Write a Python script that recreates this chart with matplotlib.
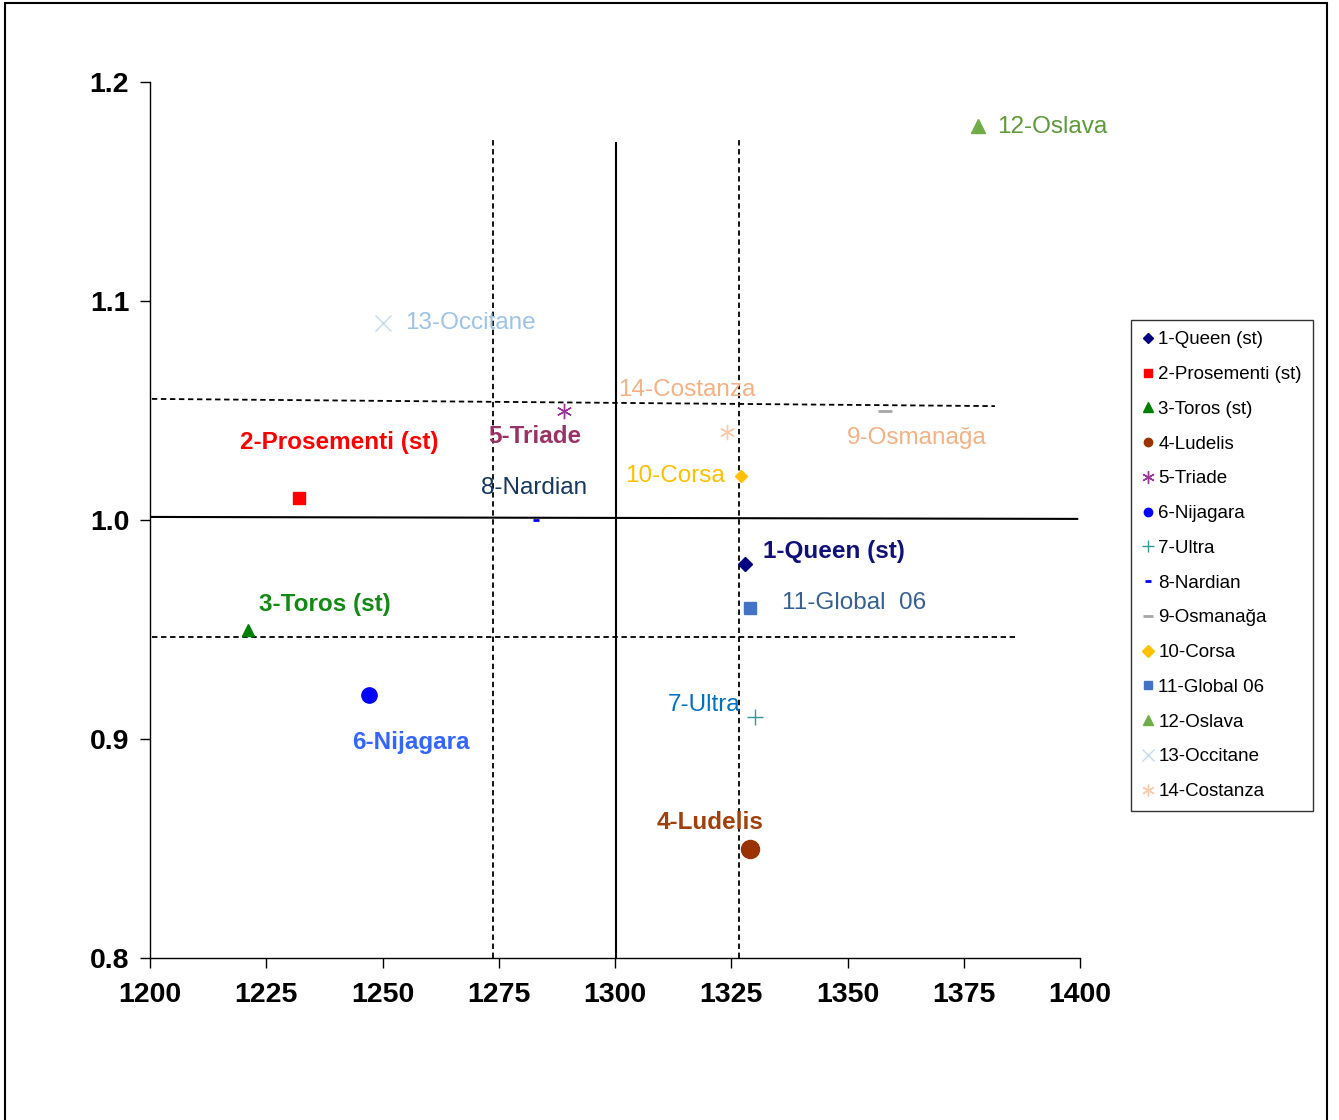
import matplotlib
matplotlib.use("Agg")
import matplotlib.pyplot as plt
from matplotlib.patches import Rectangle

plt.rcParams['font.family'] = ['Liberation Sans', 'DejaVu Sans']

# cultivars: x value, y value
names = ['1-Queen (st)', '2-Prosementi (st)', '3-Toros (st)', '4-Ludelis', '5-Triade',
         '6-Nijagara', '7-Ultra', '8-Nardian', '9-Osmanağa', '10-Corsa',
         '11-Global 06', '12-Oslava', '13-Occitane', '14-Costanza']
x_vals = [1328, 1232, 1221, 1329, 1289, 1247, 1330, 1283, 1358, 1327, 1329, 1378, 1250, 1324]
y_vals = [0.98, 1.01, 0.95, 0.85, 1.05, 0.92, 0.91, 1.00, 1.05, 1.02, 0.96, 1.18, 1.09, 1.04]

# point labels on the plot
point_labels = ['1-Queen (st)', '2-Prosementi (st)', '3-Toros (st)', '4-Ludelis', '5-Triade',
                '6-Nijagara', '7-Ultra', '8-Nardian', '9-Osmanağa', '10-Corsa',
                '11-Global  06', '12-Oslava', '13-Occitane', '14-Costanza']

# reference lines (mean and +/- limits)
x_mean = 1300.2
x_low, x_high = 1273.8, 1326.7
y_mean = 1.0
y_low, y_high = 0.9466, 1.054

# style per series: marker, size, colour, label colour, bold, legend marker size
styles = [
    ('D', 7, '#000080', '#10107a', True, 5),
    ('s', 8, '#FF0000', '#FF0000', True, 6),
    ('^', 9, '#008000', '#138a13', True, 7),
    ('o', 13, '#993300', '#a0400d', True, 6),
    ((6, 2, 0), 11, '#993399', '#993366', True, 9),
    ('o', 11, '#0000FF', '#3366FF', True, 6),
    ('+', 11, '#339999', '#0070C0', False, 9),
    ('_', 5, '#0000FF', '#17375E', False, 5),
    ('_', 10, '#A6A6A6', '#F4B183', False, 7),
    ('D', 6, '#FFC000', '#FFC000', False, 6),
    ('s', 8, '#4472C4', '#366092', False, 6),
    ('^', 10, '#70AD47', '#5E9A3A', False, 7),
    ('x', 11, '#C5D9F1', '#9DC3E6', False, 8),
    ((6, 2, 0), 11, '#F8CBAD', '#F4B183', False, 9),
]
# label anchor (left, centre) in data units
label_pos = [(1331.8, 0.9858), (1219.4, 1.0356), (1223.4, 0.9616), (1309.0, 0.8621),
             (1272.7, 1.0379), (1243.4, 0.8986), (1311.4, 0.9155), (1271.2, 1.0146),
             (1349.9, 1.0374), (1302.2, 1.0201), (1335.9, 0.9621), (1382.2, 1.1795),
             (1254.8, 1.0900), (1300.6, 1.0594)]

fig = plt.figure(figsize=(13.39, 11.2), dpi=100)
ax = fig.add_axes([150/1339, 1-958/1120, 930/1339, 876/1120])

# reference lines
dash = (0, (3, 2))
ax.plot([x_low, x_low], [0.8, 1.174], color='black', lw=1.3, ls=dash)
ax.plot([x_high, x_high], [0.8, 1.174], color='black', lw=1.3, ls=dash)
ax.plot([x_mean, x_mean], [0.8, 1.172], color='black', lw=1.5)
ax.plot([1200.4, 1381.7], [y_high + 0.0013, y_high - 0.002], color='black', lw=1.3, ls=dash)
ax.plot([1200, 1399.4], [y_mean + 0.0014, y_mean + 0.0005], color='black', lw=1.5)
ax.plot([1200.4, 1386], [y_low, y_low], color='black', lw=1.3, ls=dash)

for i in range(len(names)):
    mk, ms, col, lcol, bold, lms = styles[i]
    mew = 2 if mk == '_' else 1
    ax.plot([x_vals[i]], [y_vals[i]], linestyle='none', marker=mk, markersize=ms,
            color=col, markeredgecolor=col, markeredgewidth=mew, label=names[i])
    lx, ly = label_pos[i]
    ax.text(lx, ly, point_labels[i], color=lcol, fontsize=17.5,
            fontweight='bold' if bold else 'normal', ha='left', va='center')

ax.set_xlim(1200, 1400)
ax.set_ylim(0.8, 1.2)
ax.set_xticks([1200, 1225, 1250, 1275, 1300, 1325, 1350, 1375, 1400])
ax.set_yticks([0.8, 0.9, 1.0, 1.1, 1.2])
ax.set_yticklabels(['0.8', '0.9', '1.0', '1.1', '1.2'])
for s in ['top', 'right']:
    ax.spines[s].set_visible(False)
for s in ['left', 'bottom']:
    ax.spines[s].set_linewidth(1.0)
ax.tick_params(direction='out', length=7, width=1, labelsize=20.5)
ax.tick_params(axis='x', pad=10)
ax.tick_params(axis='y', pad=8)
for t in ax.get_xticklabels() + ax.get_yticklabels():
    t.set_fontweight('bold')

leg = fig.legend(loc='upper left', bbox_to_anchor=(1131/1339, 1-320/1120),
                 fontsize=13.5, frameon=True, fancybox=False, edgecolor='black',
                 handlelength=0.6, handletextpad=0.25, labelspacing=0.94,
                 borderpad=0.6, borderaxespad=0)
leg.get_frame().set_linewidth(1.0)
for h, st in zip(leg.legend_handles, styles):
    h.set_markersize(st[5])

# outer frame
fig.patches.append(Rectangle((5/1339, -0.01), 1322/1339, 1.01 - 3/1120,
                             transform=fig.transFigure, fill=False,
                             edgecolor='black', lw=1.5))

fig.savefig('out.png', dpi=100)
